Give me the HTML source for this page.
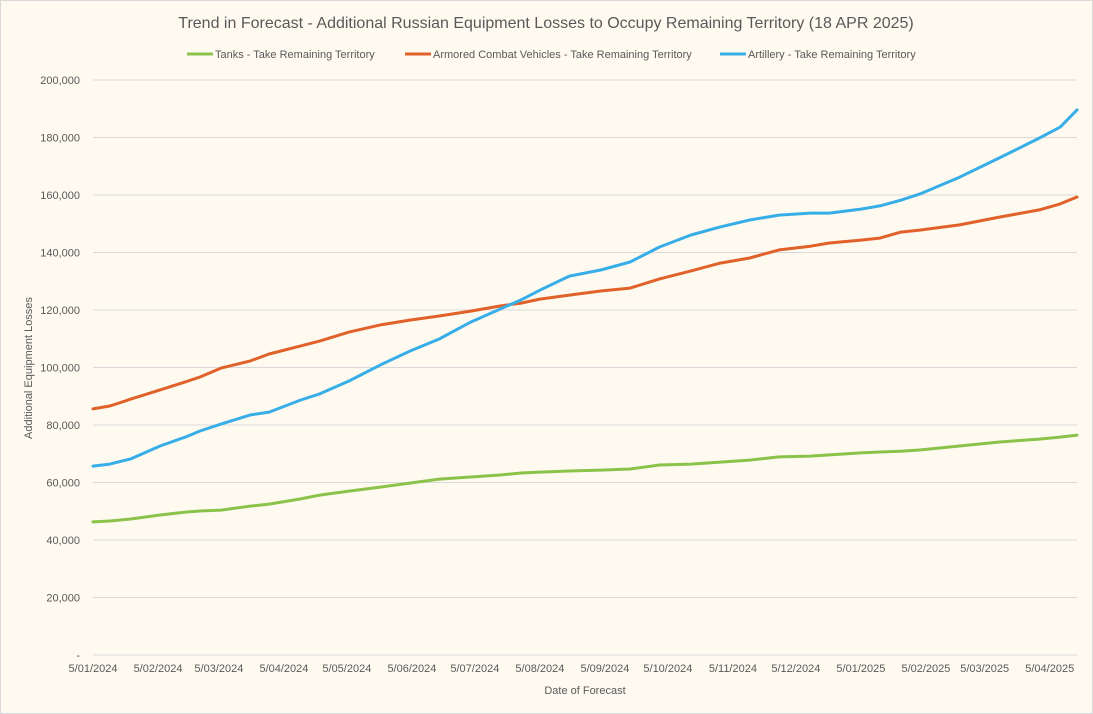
<!DOCTYPE html>
<html><head><meta charset="utf-8"><style>
html,body{margin:0;padding:0;background:#fefaf0;}
svg{display:block;font-family:"Liberation Sans",sans-serif;}
</style></head><body>
<svg id="chart" width="1093" height="714" viewBox="0 0 1093 714" xmlns="http://www.w3.org/2000/svg">
<rect x="0.5" y="0.5" width="1092" height="713" fill="#fefaf0" stroke="#d9d9d9"/>
<text x="546" y="28" text-anchor="middle" font-size="16" fill="#595959">Trend in Forecast - Additional Russian Equipment Losses to Occupy Remaining Territory (18 APR 2025)</text>
<g font-size="11" fill="#595959">
<g><line x1="187" y1="54" x2="213" y2="54" stroke="#8bc34a" stroke-width="3"/><text x="215" y="58">Tanks - Take Remaining Territory</text></g>
<g><line x1="405" y1="54" x2="431" y2="54" stroke="#e0622a" stroke-width="3"/><text x="433" y="58">Armored Combat Vehicles - Take Remaining Territory</text></g>
<g><line x1="720" y1="54" x2="746" y2="54" stroke="#38aee8" stroke-width="3"/><text x="748" y="58">Artillery - Take Remaining Territory</text></g>
</g>
<g id="grid"></g>
<g id="yticks" font-size="11" fill="#595959"></g>
<g id="xticks" font-size="11" fill="#595959"></g>
<g id="lines"></g>
<text x="585" y="694" text-anchor="middle" font-size="11" fill="#595959">Date of Forecast</text>
<text transform="translate(32,368) rotate(-90)" text-anchor="middle" font-size="11" fill="#595959">Additional Equipment Losses</text>
</svg>
<script>
const days = [0,8,18,32,44,51,61,75,84,99,108,122,137,151,165,180,194,204,213,227,242,256,270,285,299,313,327,342,351,366,375,385,394,413,432,451,461,469];
const tanks = [46.3,46.6,47.3,48.7,49.7,50.1,50.4,51.8,52.5,54.3,55.6,57.0,58.4,59.8,61.2,61.9,62.6,63.3,63.6,64.0,64.3,64.7,66.1,66.4,67.1,67.8,68.9,69.2,69.6,70.3,70.6,70.9,71.3,72.7,74.1,75.1,75.8,76.5];
const acv = [85.6,86.6,89.0,92.2,95.0,96.7,99.8,102.3,104.7,107.5,109.2,112.3,114.8,116.5,117.9,119.6,121.4,122.4,123.8,125.2,126.6,127.6,130.8,133.6,136.3,138.1,140.9,142.2,143.3,144.3,145.0,147.1,147.8,149.6,152.3,154.8,156.9,159.3];
const artillery = [65.7,66.4,68.2,72.7,75.8,77.9,80.3,83.5,84.5,88.7,90.8,95.3,100.9,105.7,109.9,115.8,120.3,123.5,126.9,131.8,133.9,136.7,141.9,146.1,148.9,151.3,153.0,153.7,153.7,155.1,156.2,158.2,160.3,166.2,172.9,179.8,183.6,189.6];
const yTicks = [0,20000,40000,60000,80000,100000,120000,140000,160000,180000,200000];
const xTickDays = [0,31,60,91,121,152,182,213,244,274,305,335,366,397,425,456];
const xTickLabels = ["5/01/2024","5/02/2024","5/03/2024","5/04/2024","5/05/2024","5/06/2024","5/07/2024","5/08/2024","5/09/2024","5/10/2024","5/11/2024","5/12/2024","5/01/2025","5/02/2025","5/03/2025","5/04/2025"];

const NS="http://www.w3.org/2000/svg";
const X0=93, X1=1077, Y0=655, Y1=80, DMAX=469, VMAX=200000;
const xs=d=>X0+(X1-X0)*d/DMAX;
const ys=v=>Y0-(Y0-Y1)*v/VMAX;
const grid=document.getElementById('grid'), yt=document.getElementById('yticks'), xt=document.getElementById('xticks'), lines=document.getElementById('lines');
yTicks.forEach(v=>{
  const l=document.createElementNS(NS,'line');
  l.setAttribute('x1',X0);l.setAttribute('x2',X1);l.setAttribute('y1',ys(v));l.setAttribute('y2',ys(v));
  l.setAttribute('stroke','#d9d9d9');l.setAttribute('stroke-width','1');
  
  
  grid.appendChild(l);
  const t=document.createElementNS(NS,'text');
  t.setAttribute('x',80);t.setAttribute('y',ys(v)+4);t.setAttribute('text-anchor','end');
  t.textContent=v===0?'-':v.toLocaleString('en-US');
  
  
  yt.appendChild(t);
});
xTickDays.forEach((d,i)=>{
  const t=document.createElementNS(NS,'text');
  t.setAttribute('x',xs(d));t.setAttribute('y',672);t.setAttribute('text-anchor','middle');
  t.textContent=xTickLabels[i];
  
  
  xt.appendChild(t);
});
function draw(vals,color,name){
  const p=document.createElementNS(NS,'polyline');
  p.setAttribute('points',vals.map((v,i)=>xs(days[i]).toFixed(1)+','+ys(v*1000).toFixed(1)).join(' '));
  p.setAttribute('fill','none');p.setAttribute('stroke',color);p.setAttribute('stroke-width','3');
  p.setAttribute('stroke-linejoin','round');p.setAttribute('stroke-linecap','round');
  
  
  lines.appendChild(p);
}
draw(tanks,'#8bc34a','tanks-line');
draw(acv,'#e0622a','armored-vehicles-line');
draw(artillery,'#38aee8','artillery-line');
</script>
</body></html>
